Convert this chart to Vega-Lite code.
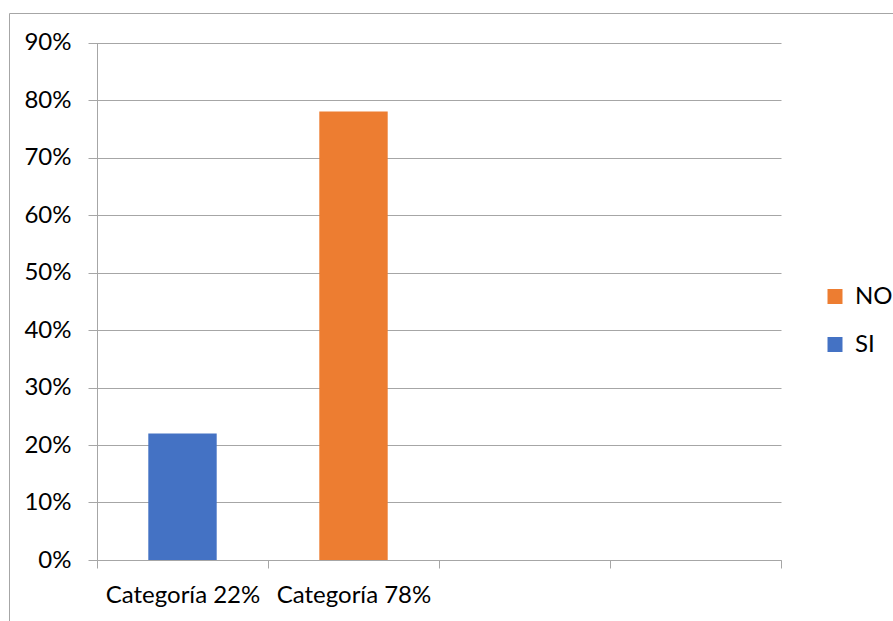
{
  "$schema": "https://vega.github.io/schema/vega-lite/v6.json",
  "width": 885,
  "height": 609,
  "autosize": {"type": "none"},
  "padding": {"left": 9, "top": 13, "right": 0, "bottom": 0},
  "background": "white",
  "config": {
    "font": "Lato",
    "view": {"stroke": "#a6a6a6", "strokeWidth": 1}
  },
  "data": {
    "values": [
      {"categoria": "Categoría 22%", "respuesta": "SI", "porcentaje": 0.22},
      {"categoria": "Categoría 78%", "respuesta": "NO", "porcentaje": 0.78}
    ]
  },
  "mark": {"type": "bar", "width": {"band": 0.4}},
  "encoding": {
    "x": {
      "field": "categoria",
      "type": "nominal",
      "sort": null,
      "scale": {
        "domain": ["Categoría 22%", "Categoría 78%", " ", "  "],
        "range": [88, 772],
        "paddingInner": 0,
        "paddingOuter": 0
      },
      "axis": {
        "title": null,
        "orient": "bottom",
        "offset": -62,
        "labelAngle": 0,
        "labelFont": "Lato",
        "labelFontSize": 24,
        "labelColor": "#000000",
        "labelPadding": 15,
        "tickBand": "extent",
        "tickSize": 8,
        "tickColor": "#a6a6a6",
        "domainColor": "#a6a6a6",
        "grid": false
      }
    },
    "y": {
      "field": "porcentaje",
      "type": "quantitative",
      "scale": {"domain": [0, 0.9], "range": [547, 29.5], "nice": false, "zero": true},
      "axis": {
        "title": null,
        "orient": "left",
        "offset": -88,
        "format": ".0%",
        "values": [0, 0.1, 0.2, 0.3, 0.4, 0.5, 0.6, 0.7, 0.8, 0.9],
        "labelFont": "Lato",
        "labelFontSize": 24,
        "labelColor": "#000000",
        "labelPadding": 17,
        "tickSize": 9,
        "tickColor": "#a6a6a6",
        "domainColor": "#a6a6a6",
        "grid": true,
        "gridColor": "#a6a6a6",
        "gridWidth": 1
      }
    },
    "color": {
      "field": "respuesta",
      "type": "nominal",
      "scale": {"domain": ["NO", "SI"], "range": ["#ED7D31", "#4472C4"]},
      "legend": {
        "title": null,
        "orient": "none",
        "legendX": 814,
        "legendY": 271.5,
        "symbolType": "square",
        "symbolSize": 225,
        "symbolStrokeWidth": 0,
        "labelFont": "Lato",
        "labelFontSize": 24,
        "labelColor": "#000000",
        "labelOffset": 8,
        "rowPadding": 24,
        "padding": 0
      }
    }
  }
}
